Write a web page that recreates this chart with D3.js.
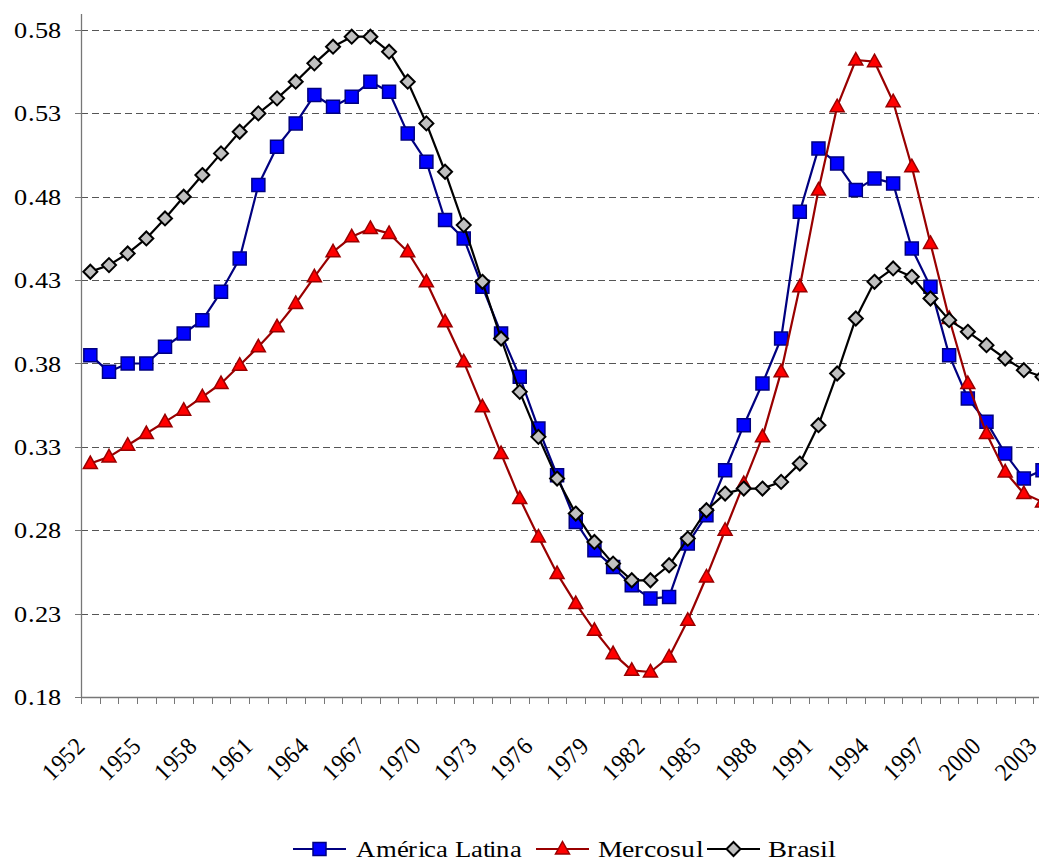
<!DOCTYPE html>
<html>
<head>
<meta charset="utf-8">
<script src="https://cdn.jsdelivr.net/npm/d3@7"></script>
<style>
  @font-face {
    font-family: "ChartSerif";
    src: local("Liberation Serif"), local("LiberationSerif"), local("Liberation Serif Regular"), local("LiberationSerif-Regular");
  }
</style>
</head>
<body style="margin:0">
<svg id="chart" width="1039" height="859"></svg>
<script>
// Years on the category axis
const years = d3.range(1952, 2004);

// Labelled years (every third year)
const yearLabels = [1952, 1955, 1958, 1961, 1964, 1967, 1970, 1973, 1976, 1979,
                    1982, 1985, 1988, 1991, 1994, 1997, 2000, 2003];

// Value axis ticks
const yTicks = [0.18, 0.23, 0.28, 0.33, 0.38, 0.43, 0.48, 0.53, 0.58];

// Series values, 1952 to 2003
const americaLatina = [
  0.385, 0.375, 0.380, 0.380, 0.390, 0.398, 0.406, 0.423, 0.443, 0.487,
  0.510, 0.524, 0.541, 0.534, 0.540, 0.549, 0.543, 0.518, 0.501, 0.466,
  0.455, 0.426, 0.398, 0.372, 0.341, 0.313, 0.285, 0.268, 0.258, 0.247,
  0.239, 0.240, 0.272, 0.289, 0.316, 0.343, 0.368, 0.395, 0.471, 0.509,
  0.500, 0.484, 0.491, 0.488, 0.449, 0.426, 0.385, 0.359, 0.345, 0.326,
  0.311, 0.316
];

const mercosul = [
  0.320, 0.324, 0.331, 0.338, 0.345, 0.352, 0.360, 0.368, 0.379, 0.390,
  0.402, 0.416, 0.432, 0.447, 0.456, 0.461, 0.458, 0.447, 0.429, 0.405,
  0.381, 0.354, 0.326, 0.299, 0.276, 0.254, 0.236, 0.220, 0.206, 0.196,
  0.195, 0.204, 0.226, 0.252, 0.280, 0.308, 0.336, 0.375, 0.426, 0.484,
  0.534, 0.562, 0.561, 0.537, 0.498, 0.452, 0.407, 0.368, 0.338, 0.315,
  0.302, 0.297
];

const brasil = [
  0.435, 0.439, 0.446, 0.455, 0.467, 0.480, 0.493, 0.506, 0.519, 0.530,
  0.539, 0.549, 0.560, 0.570, 0.576, 0.576, 0.567, 0.549, 0.524, 0.495,
  0.463, 0.429, 0.395, 0.363, 0.336, 0.311, 0.290, 0.273, 0.260, 0.250,
  0.250, 0.259, 0.275, 0.292, 0.302, 0.305, 0.305, 0.309, 0.320, 0.343,
  0.374, 0.407, 0.429, 0.437, 0.432, 0.419, 0.406, 0.399, 0.391, 0.383,
  0.376, 0.372
];

const seriesNames = ["América Latina", "Mercosul", "Brasil"];

const FONT = "ChartSerif, Liberation Serif, serif";

const svg = d3.select("#chart");

const plotLeft = 81, plotTop = 30, plotBottom = 697;
const step = 18.67;

const x = d3.scaleBand()
  .domain(years)
  .range([plotLeft, plotLeft + step * years.length])
  .paddingInner(0).paddingOuter(0);
const cx = yr => x(yr) + x.bandwidth() / 2;

const y = d3.scaleLinear()
  .domain([0.18, 0.58])
  .range([plotBottom, plotTop]);

// Horizontal dashed gridlines
svg.append("g")
  .selectAll("line")
  .data(yTicks.filter(t => t > 0.18))
  .join("line")
  .attr("x1", plotLeft).attr("x2", 1039)
  .attr("y1", d => Math.round(y(d)) + 0.5).attr("y2", d => Math.round(y(d)) + 0.5)
  .attr("stroke", "#555")
  .attr("stroke-width", 1)
  .attr("stroke-dasharray", "7,4");

// Value axis: line and ticks from the scale
const yAxisG = svg.append("g");
yAxisG.append("line")
  .attr("x1", plotLeft + 0.5).attr("x2", plotLeft + 0.5)
  .attr("y1", y(0.58) - 16).attr("y2", plotBottom)
  .attr("stroke", "#777").attr("stroke-width", 1.3);
yAxisG.selectAll("line.tick")
  .data(yTicks)
  .join("line")
  .attr("class", "tick")
  .attr("x1", plotLeft - 6).attr("x2", plotLeft)
  .attr("y1", d => Math.round(y(d)) + 0.5).attr("y2", d => Math.round(y(d)) + 0.5)
  .attr("stroke", "#777");

// Category axis: line plus tick marks at category boundaries
const xAxisG = svg.append("g");
const xEnd = x.range()[1];
xAxisG.append("line")
  .attr("x1", plotLeft).attr("x2", xEnd)
  .attr("y1", plotBottom + 0.5).attr("y2", plotBottom + 0.5)
  .attr("stroke", "#777").attr("stroke-width", 1.3);
xAxisG.selectAll("line.tick")
  .data(years.concat([null]))
  .join("line")
  .attr("class", "tick")
  .attr("x1", d => d === null ? xEnd : Math.round(x(d)) + 0.5)
  .attr("x2", d => d === null ? xEnd : Math.round(x(d)) + 0.5)
  .attr("y1", plotBottom).attr("y2", plotBottom + 7)
  .attr("stroke", "#777");

// Line generator through the scales
const lineGen = vals => d3.line()
  .x((d, i) => cx(years[i]))
  .y(d => y(d))(vals);

const series = [
  { name: seriesNames[0], values: americaLatina, line: "#000080", fill: "#0000ff", stroke: "#000080", shape: "square" },
  { name: seriesNames[1], values: mercosul, line: "#990000", fill: "#ff0000", stroke: "#990000", shape: "triangle" },
  { name: seriesNames[2], values: brasil, line: "#000000", fill: "#c0c0c0", stroke: "#000000", shape: "diamond" }
];

function markerPath(shape) {
  if (shape === "square") return "M-6.5,-6.5H6.5V6.5H-6.5Z";
  if (shape === "triangle") return "M0,-7.5L7,5L-7,5Z";
  return "M0,-7L7,0L0,7L-7,0Z";
}

const seriesG = svg.append("g");
series.forEach(s => {
  const g = seriesG.append("g");
  g.append("path")
    .attr("d", lineGen(s.values))
    .attr("fill", "none")
    .attr("stroke", s.line)
    .attr("stroke-width", 2.2)
    .attr("stroke-linejoin", "round");
  g.selectAll("path.mark")
    .data(s.values)
    .join("path")
    .attr("class", "mark")
    .attr("d", markerPath(s.shape))
    .attr("transform", (d, i) => `translate(${cx(years[i])},${y(d)})`)
    .attr("fill", s.fill)
    .attr("stroke", s.stroke)
    .attr("stroke-width", s.shape === "diamond" ? 2 : 1.5)
    .attr("stroke-linejoin", "miter");
});

// Value axis labels (fixed advance so the column width holds)
svg.append("g")
  .selectAll("text")
  .data(yTicks)
  .join("text")
  .style("font-family", FONT)
  .attr("font-size", 23)
  .attr("x", 14)
  .attr("y", d => y(d) + 8)
  .attr("textLength", 48)
  .attr("lengthAdjust", "spacingAndGlyphs")
  .text(d => d.toFixed(2));

// Category axis labels, rotated
svg.append("g")
  .selectAll("text")
  .data(yearLabels)
  .join("text")
  .style("font-family", FONT)
  .attr("font-size", 25)
  .attr("x", d => cx(d) - 52)
  .attr("y", 748)
  .attr("textLength", 48)
  .attr("lengthAdjust", "spacingAndGlyphs")
  .attr("transform", d => `rotate(-45,${cx(d) - 4},748)`)
  .text(d => d);

// Legend
const legendY = 849;
const legendItems = [
  { s: series[0], x0: 293, tx: 356, w: 166 },
  { s: series[1], x0: 536, tx: 598, w: 105 },
  { s: series[2], x0: 707, tx: 768, w: 67 }
];
const legend = svg.append("g");
legendItems.forEach(it => {
  const g = legend.append("g");
  g.append("line")
    .attr("x1", it.x0).attr("x2", it.x0 + 53)
    .attr("y1", legendY).attr("y2", legendY)
    .attr("stroke", it.s.line).attr("stroke-width", 2.2);
  g.append("path")
    .attr("d", markerPath(it.s.shape))
    .attr("transform", `translate(${it.x0 + 26.5},${legendY})`)
    .attr("fill", it.s.fill)
    .attr("stroke", it.s.stroke)
    .attr("stroke-width", it.s.shape === "diamond" ? 2 : 1.5);
  g.append("text")
    .style("font-family", FONT)
    .attr("font-size", 23)
    .attr("x", it.tx)
    .attr("y", legendY + 8)
    .attr("textLength", it.w)
    .attr("lengthAdjust", "spacingAndGlyphs")
    .text(it.s.name);
});
</script>
</body>
</html>
